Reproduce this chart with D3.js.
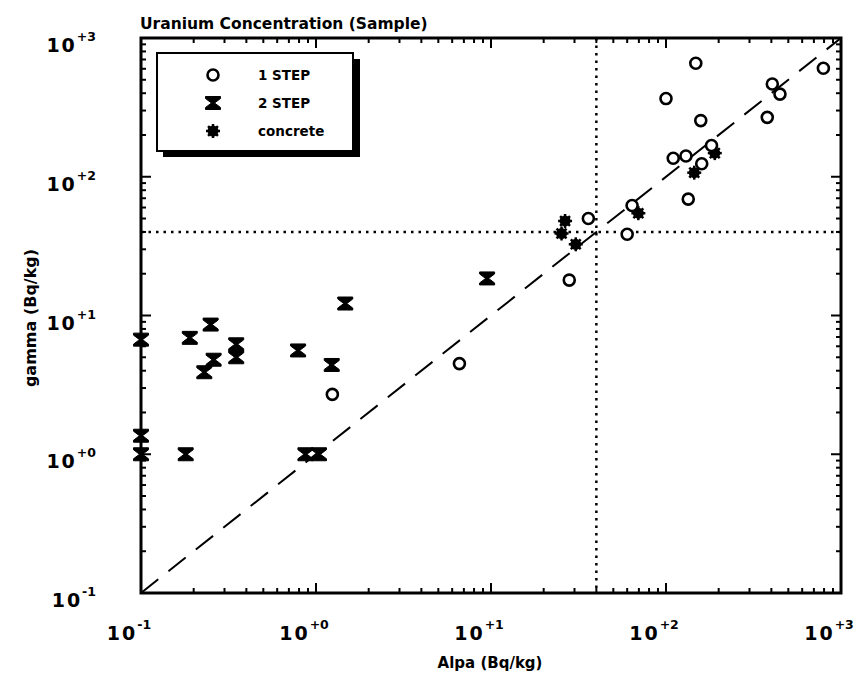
<!DOCTYPE html>
<html><head><meta charset="utf-8">
<script src="https://cdn.jsdelivr.net/npm/d3@7"></script>
<style>body{margin:0;background:#fff}svg{display:block}text{font-family:"DejaVu Sans",sans-serif;font-weight:bold;fill:#000}</style>
</head><body><svg id="c" width="861" height="673"></svg>
<script>
const step1X = [148, 793, 405, 448, 100, 158, 379, 182, 110, 130, 160, 134, 64, 36, 60, 28, 6.6, 1.24];
const step1Y = [658, 605, 466, 394, 366, 254, 268, 168, 136, 141, 124, 69, 62, 50, 38.5, 18, 4.5, 2.7];
const step2X = [0.1, 0.19, 0.25, 0.26, 0.23, 0.35, 0.35, 0.79, 1.23, 1.47, 0.1, 0.1, 0.18, 0.87, 1.04, 9.5];
const step2Y = [6.7, 6.9, 8.6, 4.8, 3.9, 6.2, 5.0, 5.6, 4.4, 12.2, 1.36, 1.0, 1.0, 1.0, 1.0, 18.5];
const concreteX = [26.5, 25.3, 30.5, 69.5, 145, 190];
const concreteY = [48, 39, 32.6, 54.6, 107, 148];
const thresholdX = 40, thresholdY = 40;
const tickExps = [-1, 0, 1, 2, 3];
const tickLabels = ["-1", "+0", "+1", "+2", "+3"];
const legendNames = ["1 STEP", "2 STEP", "concrete"];
const title = "Uranium Concentration (Sample)";
const xTitle = "Alpa (Bq/kg)", yTitle = "gamma (Bq/kg)";

const svg = d3.select("#c");
const L = 141, R = 841, T = 38, B = 593;
const x = d3.scaleLog().domain([0.1, 1000]).range([L, R]);
const y = d3.scaleLog().domain([0.1, 1000]).range([B, T]);

// ticks (inward, all four sides)
const minor = [];
for (let e = -1; e < 3; e++) for (let m = 2; m <= 9; m++) minor.push(m * Math.pow(10, e));
const major = tickExps.map(e => Math.pow(10, e));
const tg = svg.append("g").attr("stroke", "#000").attr("stroke-width", 2);
function ticks(vals, len) {
  vals.forEach(v => {
    tg.append("line").attr("x1", x(v)).attr("x2", x(v)).attr("y1", B).attr("y2", B - len);
    tg.append("line").attr("x1", x(v)).attr("x2", x(v)).attr("y1", T).attr("y2", T + len);
    tg.append("line").attr("y1", y(v)).attr("y2", y(v)).attr("x1", L).attr("x2", L + len);
    tg.append("line").attr("y1", y(v)).attr("y2", y(v)).attr("x1", R).attr("x2", R - len);
  });
}
ticks(minor, 5);
ticks(major, 10);

// threshold dotted lines
svg.append("line").attr("x1", x(thresholdX)).attr("x2", x(thresholdX)).attr("y1", T).attr("y2", B)
  .attr("stroke", "#000").attr("stroke-width", 2.5).attr("stroke-dasharray", "2.5,5");
svg.append("line").attr("x1", L).attr("x2", R).attr("y1", y(thresholdY)).attr("y2", y(thresholdY))
  .attr("stroke", "#000").attr("stroke-width", 2.5).attr("stroke-dasharray", "2.5,5");

// 1:1 dashed line
svg.append("line").attr("x1", x(0.1)).attr("y1", y(0.1)).attr("x2", x(1000)).attr("y2", y(1000))
  .attr("stroke", "#000").attr("stroke-width", 2).attr("stroke-dasharray", "22,13");

// frame
svg.append("rect").attr("x", L).attr("y", T).attr("width", R - L).attr("height", B - T)
  .attr("fill", "none").attr("stroke", "#000").attr("stroke-width", 3);

// markers
const hourglass = "M-7.5,-6.5H7.5V-4.5L1.5,0L7.5,4.5V6.5H-7.5V4.5L-1.5,0L-7.5,-4.5Z";
function drawCircle(g, cx, cy) {
  g.append("circle").attr("cx", cx).attr("cy", cy).attr("r", 5.5).attr("fill", "#fff")
    .attr("stroke", "#000").attr("stroke-width", 2.6);
}
function drawHour(g, cx, cy) {
  g.append("path").attr("d", hourglass).attr("transform", `translate(${cx},${cy})`).attr("fill", "#000")
    .attr("stroke", "#000").attr("stroke-width", 1);
}
function drawStar(g, cx, cy) {
  const s = g.append("g").attr("transform", `translate(${cx},${cy})`);
  s.append("circle").attr("r", 5.5).attr("fill", "#000");
  [0, 45, 90, 135].forEach(a => s.append("line").attr("x1", -7).attr("x2", 7)
    .attr("transform", `rotate(${a})`).attr("stroke", "#000").attr("stroke-width", 2.5));
}
const mg = svg.append("g");
step2X.forEach((v, i) => drawHour(mg, x(v), y(step2Y[i])));
concreteX.forEach((v, i) => drawStar(mg, x(v), y(concreteY[i])));
step1X.forEach((v, i) => drawCircle(mg, x(v), y(step1Y[i])));

// legend
const lg = svg.append("g");
lg.append("rect").attr("x", 163).attr("y", 59).attr("width", 197).attr("height", 98).attr("fill", "#000");
lg.append("rect").attr("x", 157).attr("y", 53).attr("width", 196).attr("height", 98).attr("fill", "#fff")
  .attr("stroke", "#000").attr("stroke-width", 2);
const rows = [75, 103, 131];
drawCircle(lg, 213, rows[0]);
drawHour(lg, 213, rows[1]);
drawStar(lg, 213, rows[2]);
legendNames.forEach((n, i) => lg.append("text").attr("x", 258).attr("y", rows[i] + 5)
  .attr("font-size", 13.5).text(n));

// title
svg.append("text").attr("x", 140).attr("y", 29).attr("font-size", 15.5).text(title);

// tick labels
function powLabel(g, e, lbl) {
  g.append("tspan").text("10").attr("letter-spacing", 2);
  g.append("tspan").text(lbl).attr("font-size", 12.5).attr("dy", -11);
}
tickExps.forEach((e, i) => {
  const t = svg.append("text").attr("x", x(Math.pow(10, e)) - 12).attr("y", 640)
    .attr("text-anchor", "middle").attr("font-size", 19);
  powLabel(t, e, tickLabels[i]);
  const t2 = svg.append("text").attr("x", 96).attr("y", y(Math.pow(10, e)) + 14)
    .attr("text-anchor", "end").attr("font-size", 19);
  powLabel(t2, e, tickLabels[i]);
});

// axis titles
svg.append("text").attr("x", 490).attr("y", 668).attr("text-anchor", "middle").attr("font-size", 15).text(xTitle);
svg.append("text").attr("transform", `translate(36,318) rotate(-90)`).attr("text-anchor", "middle")
  .attr("font-size", 16).text(yTitle);
</script></body></html>
